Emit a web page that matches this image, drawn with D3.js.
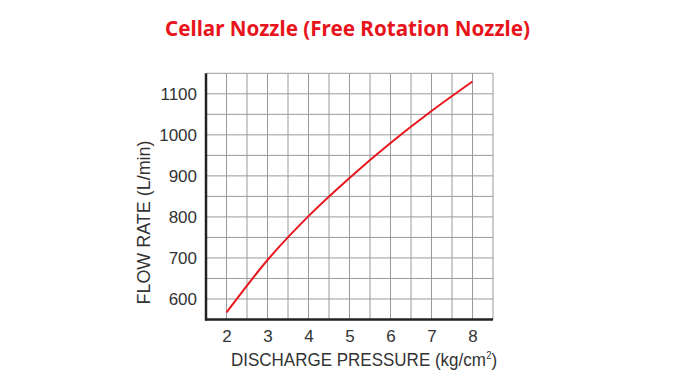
<!DOCTYPE html>
<html><head><meta charset="utf-8">
<script src="https://cdn.jsdelivr.net/npm/d3@7"></script>
<style>body{margin:0;background:#fff}svg{display:block}</style>
</head><body>
<svg id="c" width="683" height="384"></svg>
<script>
const pressure = [2, 3, 4, 5, 6, 7, 8];
const flowRate = [567, 695, 802, 895, 980, 1058, 1130];
const xTicks = [2, 3, 4, 5, 6, 7, 8];
const yTicks = [600, 700, 800, 900, 1000, 1100];
const title = "Cellar Nozzle (Free Rotation Nozzle)";

const svg = d3.select("#c");
const x = d3.scaleLinear().domain([1.5, 8.5]).range([206, 493]);
const y = d3.scaleLinear().domain([550, 1150]).range([319.5, 73.3]);

const grid = svg.append("g").attr("stroke", "#9a9a9a").attr("stroke-width", 1);
d3.range(2, 8.51, 0.5).forEach(v => {
  grid.append("line").attr("x1", x(v)).attr("x2", x(v)).attr("y1", y(1150)).attr("y2", y(550));
});
d3.range(600, 1150.1, 50).forEach(v => {
  grid.append("line").attr("x1", x(1.5)).attr("x2", x(8.5)).attr("y1", y(v)).attr("y2", y(v));
});

const font = "Liberation Sans, Arial, sans-serif";
// axes
const xAxis = d3.axisBottom(x).tickValues(xTicks).tickFormat(d3.format("d")).tickSize(0).tickPadding(10);
const gx = svg.append("g").attr("transform", `translate(0,${y(550)})`).call(xAxis);
gx.select(".domain").attr("stroke", "#222").attr("stroke-width", 2.5).attr("d", `M${x(1.5)-1},0H${x(8.5)}`);
gx.selectAll("text").attr("font-family", font).attr("font-size", 17).attr("fill", "#333").attr("dy", "0.75em");

const yAxis = d3.axisLeft(y).tickValues(yTicks).tickFormat(d3.format("d")).tickSize(0).tickPadding(9);
const gy = svg.append("g").attr("transform", `translate(${x(1.5)},0)`).call(yAxis);
gy.select(".domain").attr("stroke", "#222").attr("stroke-width", 2.5).attr("d", `M0,${y(1150)}V${y(550)+1}`);
gy.selectAll("text").attr("font-family", font).attr("font-size", 17).attr("fill", "#333");

// curve
const line = d3.line().x((d, i) => x(pressure[i])).y(d => y(d)).curve(d3.curveMonotoneX);
svg.append("path").datum(flowRate).attr("d", line).attr("fill", "none")
  .attr("stroke", "#e8161e").attr("stroke-width", 2);

// x label (one text, horizontally scaled to the reference width)
const xl = svg.append("text").attr("font-family", font).attr("font-size", 19).attr("fill", "#333");
xl.append("tspan").text("DISCHARGE PRESSURE (kg/cm");
xl.append("tspan").attr("font-size", 10.5).attr("dy", -7).attr("dx", 0.5).text("2");
xl.append("tspan").attr("dy", 7).text(")");
const w = xl.node().getComputedTextLength();
xl.attr("transform", `translate(231,366) scale(${266 / w},1)`);

svg.append("text").attr("transform", "translate(150,222.5) rotate(-90)").attr("text-anchor", "middle")
  .attr("font-family", font).attr("font-size", 18).attr("fill", "#333")
  .attr("textLength", 164).attr("lengthAdjust", "spacingAndGlyphs")
  .text("FLOW RATE (L/min)");

svg.append("text").attr("x", 165).attr("y", 35.5)
  .attr("font-family", "Noto Sans, sans-serif").attr("font-weight", "bold").attr("font-size", 21)
  .attr("textLength", 365).attr("lengthAdjust", "spacingAndGlyphs")
  .attr("fill", "#e8141c").text(title);
</script>
</body></html>
